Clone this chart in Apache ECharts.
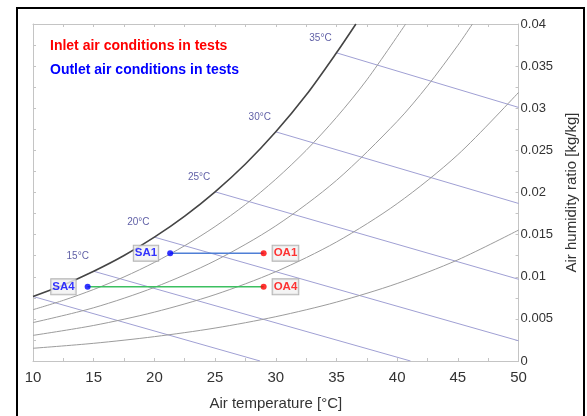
<!DOCTYPE html>
<html>
<head>
<meta charset="utf-8">
<script src="https://cdn.jsdelivr.net/npm/echarts@6/dist/echarts.min.js"></script>
<style>
  html, body { margin: 0; padding: 0; background: #fff; }
  #chart { width: 587px; height: 416px; }
</style>
</head>
<body>
<div id="chart"></div>
<script>
// Psychrometric chart: air temperature [°C] vs humidity ratio [kg/kg]

// Saturation curve (100 % RH)
const saturation = [[10, 0.00766], [12.5, 0.00902], [15, 0.01065], [17.5, 0.01252], [20, 0.0147],
  [22.5, 0.0172], [25, 0.02008], [27.5, 0.02338], [30, 0.0272], [32.5, 0.03156], [35, 0.03658], [36.6, 0.04]];

// Relative humidity curves
const rh80 = [[10, 0.00609], [12.5, 0.0072], [15, 0.00849], [17.5, 0.00998], [20, 0.0117], [22.5, 0.01369],
  [25, 0.01596], [27.5, 0.01857], [30, 0.02158], [32.5, 0.025], [35, 0.02892], [37.5, 0.03337], [40.7, 0.04]];
const rh60 = [[10, 0.00456], [15, 0.00632], [20, 0.00874], [25, 0.0119], [30, 0.01604], [35, 0.02144],
  [40, 0.02844], [42.5, 0.03266], [45, 0.03747], [46.2, 0.04]];
const rh40 = [[10, 0.00304], [15, 0.00422], [20, 0.0058], [25, 0.00788], [30, 0.0106], [35, 0.01413],
  [40, 0.01868], [45, 0.02449], [50, 0.03188]];
const rh20 = [[10, 0.00151], [15, 0.0021], [20, 0.00289], [25, 0.00391], [30, 0.00526], [35, 0.00699],
  [40, 0.0092], [45, 0.01201], [50, 0.01554]];

// Constant wet-bulb / enthalpy lines, starting on the saturation curve
const wb10 = [[10, 0.00766], [28.7, 0]];
const wb15 = [[15, 0.01065], [41.1, 0]];
const wb20 = [[20, 0.0147], [50, 0.0024]];
const wb25 = [[25, 0.02008], [50, 0.0097]];
const wb30 = [[30, 0.0272], [50, 0.0187]];
const wb35 = [[35, 0.03658], [50, 0.0301]];
const wbLabels = ['15°C', '20°C', '25°C', '30°C', '35°C'];

// Test conditions
const outletNames = ['SA1', 'SA4'];
const outletPoints = [[21.3, 0.0128], [14.5, 0.0088]];
const inletNames = ['OA1', 'OA4'];
const inletPoints = [[29.0, 0.0128], [29.0, 0.0088]];

const FONT = '"Liberation Sans", Arial, sans-serif';
const AXIS_GREY = '#c4c4c4';

function tickStyle(showLabels) {
  return {
    axisLine: { show: true, onZero: false, lineStyle: { color: AXIS_GREY, width: 1 } },
    axisTick: { show: true, inside: true, length: 3, lineStyle: { color: AXIS_GREY } },
    minorTick: { show: true, splitNumber: 2, length: 3, lineStyle: { color: AXIS_GREY } },
    splitLine: { show: false },
    axisLabel: { show: showLabels }
  };
}

function curve(data, color, width) {
  return {
    type: 'line', data: data, smooth: 0.3, symbol: 'none', silent: true,
    lineStyle: { color: color, width: width }, z: 2
  };
}

const wbLines = [wb10, wb15, wb20, wb25, wb30, wb35];
const series = [];
wbLines.forEach(d => series.push({
  type: 'line', data: d, symbol: 'none', silent: true,
  lineStyle: { color: '#a0a0d4', width: 1 }, z: 2
}));
series.push(curve(rh20, '#9c9c9c', 1));
series.push(curve(rh40, '#9c9c9c', 1));
series.push(curve(rh60, '#9c9c9c', 1));
series.push(curve(rh80, '#9c9c9c', 1));
series.push(curve(saturation, '#454545', 1.6));

// wet-bulb temperature labels beside the saturation curve
series.push({
  type: 'scatter', symbolSize: 0, silent: true, z: 3,
  data: wbLines.slice(1).map((d, i) => ({ value: d[0], name: wbLabels[i] })),
  label: {
    show: true, formatter: p => p.name, position: 'inside', offset: [-16, -15],
    color: '#36368f', fontSize: 10, fontFamily: 'Arial, "Liberation Sans", sans-serif'
  }
});

// connecting lines between outlet and inlet states
series.push({
  type: 'line', data: [outletPoints[0], inletPoints[0]], symbol: 'none', silent: true,
  lineStyle: { color: '#4f7fd6', width: 1.5 }, z: 4
});
series.push({
  type: 'line', data: [outletPoints[1], inletPoints[1]], symbol: 'none', silent: true,
  lineStyle: { color: '#3cc060', width: 1.5 }, z: 4
});

const boxLabel = {
  show: true, formatter: p => p.name, fontSize: 11.5, fontWeight: 'bold', fontFamily: FONT,
  backgroundColor: '#f1f1f1', borderColor: '#a0a0a0', borderWidth: 1, padding: [2, 1, 1, 1]
};
series.push({
  type: 'scatter', symbol: 'circle', symbolSize: 6, z: 5,
  itemStyle: { color: '#0000ff' },
  data: outletPoints.map((p, i) => ({ value: p, name: outletNames[i] })),
  label: Object.assign({}, boxLabel, { position: 'left', distance: 9, color: '#0000ff' })
});
series.push({
  type: 'scatter', symbol: 'circle', symbolSize: 6, z: 5,
  itemStyle: { color: '#ff0000' },
  data: inletPoints.map((p, i) => ({ value: p, name: inletNames[i] })),
  label: Object.assign({}, boxLabel, { position: 'right', distance: 6, color: '#ff0000' })
});

const chart = echarts.init(document.getElementById('chart'));
chart.setOption({
  animation: false,
  backgroundColor: '#ffffff',
  textStyle: { fontFamily: FONT },
  grid: { left: 33, right: 67, top: 24, bottom: 53 },
  xAxis: [
    Object.assign({
      type: 'value', min: 10, max: 50, interval: 5, position: 'bottom',
      name: 'Air temperature [°C]', nameLocation: 'middle', nameGap: 35,
      nameTextStyle: { fontSize: 15, color: '#333', fontFamily: FONT }
    }, tickStyle(true), {
      axisLabel: { show: true, fontSize: 15, color: '#333', margin: 9, fontFamily: FONT }
    }),
    Object.assign({ type: 'value', min: 10, max: 50, interval: 5, position: 'top' }, tickStyle(false))
  ],
  yAxis: [
    Object.assign({
      type: 'value', min: 0, max: 0.04, interval: 0.005, position: 'right',
      name: 'Air humidity ratio [kg/kg]', nameLocation: 'middle', nameGap: 41, nameRotate: 90,
      nameTextStyle: { fontSize: 15, color: '#333', fontFamily: FONT }
    }, tickStyle(true), {
      axisLabel: {
        show: true, fontSize: 13, color: '#333', margin: 2, fontFamily: FONT,
        formatter: v => String(+v.toFixed(3))
      }
    }),
    Object.assign({ type: 'value', min: 0, max: 0.04, interval: 0.005, position: 'left' }, tickStyle(false))
  ],
  graphic: [
    {
      type: 'rect', shape: { x: 17, y: 8, width: 567, height: 420 }, silent: true, z: 100,
      style: { fill: 'none', stroke: '#000', lineWidth: 2 }
    },
    {
      type: 'text', left: 50, top: 39, z: 100,
      style: { text: 'Inlet air conditions in tests', fill: '#ff0000', font: 'bold 14px ' + FONT }
    },
    {
      type: 'text', left: 50, top: 63, z: 100,
      style: { text: 'Outlet air conditions in tests', fill: '#0000ff', font: 'bold 14px ' + FONT }
    }
  ],
  series: series
});
</script>
</body>
</html>
